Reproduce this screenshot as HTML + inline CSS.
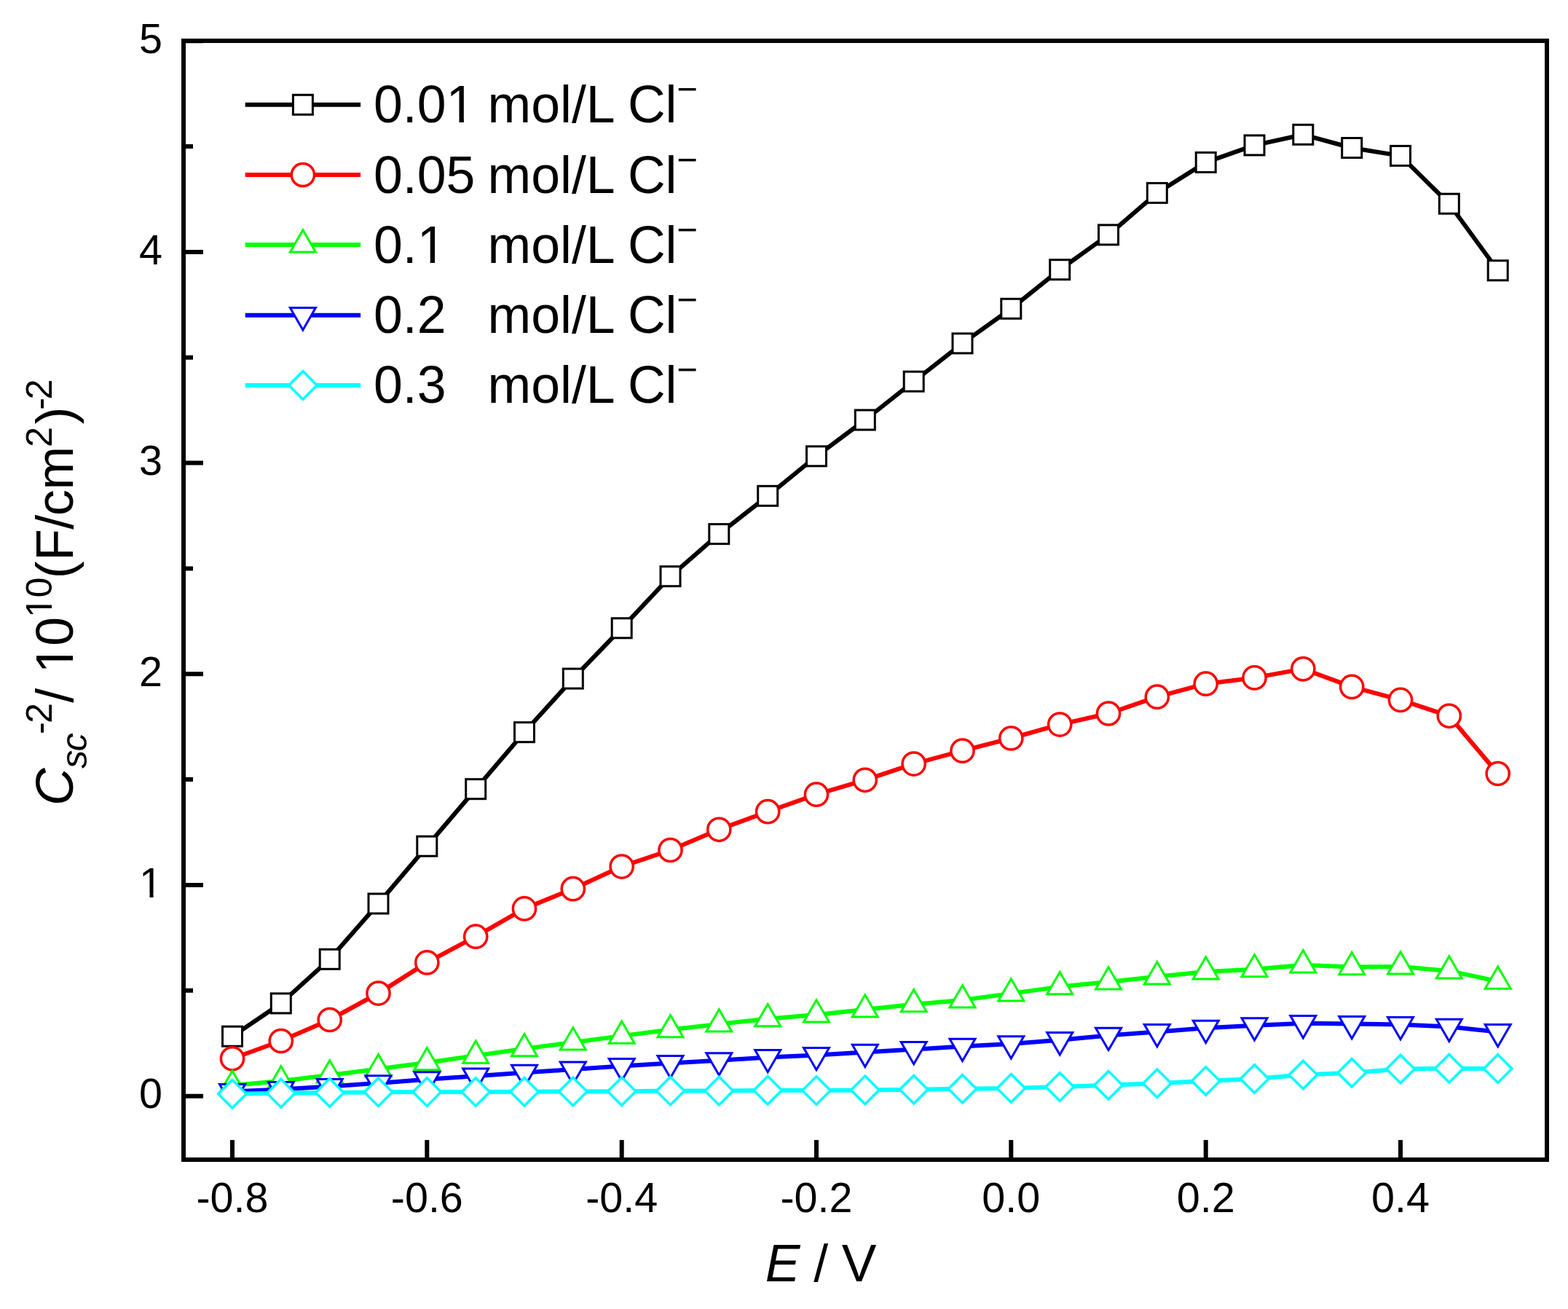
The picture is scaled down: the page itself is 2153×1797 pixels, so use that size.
<!DOCTYPE html>
<html><head><meta charset="utf-8"><title>Mott-Schottky plot</title>
<style>
html,body{margin:0;padding:0;background:#fff;}
body{width:2153px;height:1797px;overflow:hidden;}
svg{display:block;}
text{font-family:"Liberation Sans",Arial,sans-serif;fill:#000;}
</style></head><body>
<svg width="2153" height="1797" viewBox="0 0 2153 1797">
<rect x="0" y="0" width="2153" height="1797" fill="#fff"/>
<polyline points="319,1422.7 385.8,1377.4 452.7,1316.8 519.5,1240.5 586.3,1161.7 653.2,1083.2 720,1005.2 786.8,931.6 853.7,862.3 920.5,791.2 987.3,733.1 1054.2,680.8 1121,626.3 1187.8,576.5 1254.7,523.7 1321.5,471.4 1388.3,423.8 1455.2,370.2 1522,322.4 1588.8,264.9 1655.7,222.9 1722.5,199.4 1789.3,184.8 1856.2,203 1923,213.9 1989.8,279.7 2056.7,371.3" fill="none" stroke="#000000" stroke-width="6.0" stroke-linejoin="round"/>
<g><rect x="305.5" y="1409.2" width="27" height="27" fill="#fff" stroke="#000000" stroke-width="3"/><rect x="372.3" y="1363.9" width="27" height="27" fill="#fff" stroke="#000000" stroke-width="3"/><rect x="439.2" y="1303.3" width="27" height="27" fill="#fff" stroke="#000000" stroke-width="3"/><rect x="506" y="1227" width="27" height="27" fill="#fff" stroke="#000000" stroke-width="3"/><rect x="572.8" y="1148.2" width="27" height="27" fill="#fff" stroke="#000000" stroke-width="3"/><rect x="639.7" y="1069.7" width="27" height="27" fill="#fff" stroke="#000000" stroke-width="3"/><rect x="706.5" y="991.7" width="27" height="27" fill="#fff" stroke="#000000" stroke-width="3"/><rect x="773.3" y="918.1" width="27" height="27" fill="#fff" stroke="#000000" stroke-width="3"/><rect x="840.2" y="848.8" width="27" height="27" fill="#fff" stroke="#000000" stroke-width="3"/><rect x="907" y="777.7" width="27" height="27" fill="#fff" stroke="#000000" stroke-width="3"/><rect x="973.8" y="719.6" width="27" height="27" fill="#fff" stroke="#000000" stroke-width="3"/><rect x="1040.7" y="667.3" width="27" height="27" fill="#fff" stroke="#000000" stroke-width="3"/><rect x="1107.5" y="612.8" width="27" height="27" fill="#fff" stroke="#000000" stroke-width="3"/><rect x="1174.3" y="563" width="27" height="27" fill="#fff" stroke="#000000" stroke-width="3"/><rect x="1241.2" y="510.2" width="27" height="27" fill="#fff" stroke="#000000" stroke-width="3"/><rect x="1308" y="457.9" width="27" height="27" fill="#fff" stroke="#000000" stroke-width="3"/><rect x="1374.8" y="410.3" width="27" height="27" fill="#fff" stroke="#000000" stroke-width="3"/><rect x="1441.7" y="356.7" width="27" height="27" fill="#fff" stroke="#000000" stroke-width="3"/><rect x="1508.5" y="308.9" width="27" height="27" fill="#fff" stroke="#000000" stroke-width="3"/><rect x="1575.3" y="251.4" width="27" height="27" fill="#fff" stroke="#000000" stroke-width="3"/><rect x="1642.2" y="209.4" width="27" height="27" fill="#fff" stroke="#000000" stroke-width="3"/><rect x="1709" y="185.9" width="27" height="27" fill="#fff" stroke="#000000" stroke-width="3"/><rect x="1775.8" y="171.3" width="27" height="27" fill="#fff" stroke="#000000" stroke-width="3"/><rect x="1842.7" y="189.5" width="27" height="27" fill="#fff" stroke="#000000" stroke-width="3"/><rect x="1909.5" y="200.4" width="27" height="27" fill="#fff" stroke="#000000" stroke-width="3"/><rect x="1976.3" y="266.2" width="27" height="27" fill="#fff" stroke="#000000" stroke-width="3"/><rect x="2043.2" y="357.8" width="27" height="27" fill="#fff" stroke="#000000" stroke-width="3"/></g>
<polyline points="319,1453.3 385.8,1429 452.7,1400 519.5,1363.6 586.3,1321.4 653.2,1285.7 720,1247.4 786.8,1220.2 853.7,1189.6 920.5,1167 987.3,1138.8 1054.2,1114.2 1121,1090.7 1187.8,1070.8 1254.7,1048.6 1321.5,1030.7 1388.3,1013.5 1455.2,994.6 1522,979.5 1588.8,956.7 1655.7,938.7 1722.5,930.4 1789.3,918.3 1856.2,942.9 1923,960.9 1989.8,982.8 2056.7,1062" fill="none" stroke="#ff0000" stroke-width="6.0" stroke-linejoin="round"/>
<g><circle cx="319" cy="1453.3" r="15.6" fill="#fff" stroke="#ff0000" stroke-width="3.5"/><circle cx="385.8" cy="1429" r="15.6" fill="#fff" stroke="#ff0000" stroke-width="3.5"/><circle cx="452.7" cy="1400" r="15.6" fill="#fff" stroke="#ff0000" stroke-width="3.5"/><circle cx="519.5" cy="1363.6" r="15.6" fill="#fff" stroke="#ff0000" stroke-width="3.5"/><circle cx="586.3" cy="1321.4" r="15.6" fill="#fff" stroke="#ff0000" stroke-width="3.5"/><circle cx="653.2" cy="1285.7" r="15.6" fill="#fff" stroke="#ff0000" stroke-width="3.5"/><circle cx="720" cy="1247.4" r="15.6" fill="#fff" stroke="#ff0000" stroke-width="3.5"/><circle cx="786.8" cy="1220.2" r="15.6" fill="#fff" stroke="#ff0000" stroke-width="3.5"/><circle cx="853.7" cy="1189.6" r="15.6" fill="#fff" stroke="#ff0000" stroke-width="3.5"/><circle cx="920.5" cy="1167" r="15.6" fill="#fff" stroke="#ff0000" stroke-width="3.5"/><circle cx="987.3" cy="1138.8" r="15.6" fill="#fff" stroke="#ff0000" stroke-width="3.5"/><circle cx="1054.2" cy="1114.2" r="15.6" fill="#fff" stroke="#ff0000" stroke-width="3.5"/><circle cx="1121" cy="1090.7" r="15.6" fill="#fff" stroke="#ff0000" stroke-width="3.5"/><circle cx="1187.8" cy="1070.8" r="15.6" fill="#fff" stroke="#ff0000" stroke-width="3.5"/><circle cx="1254.7" cy="1048.6" r="15.6" fill="#fff" stroke="#ff0000" stroke-width="3.5"/><circle cx="1321.5" cy="1030.7" r="15.6" fill="#fff" stroke="#ff0000" stroke-width="3.5"/><circle cx="1388.3" cy="1013.5" r="15.6" fill="#fff" stroke="#ff0000" stroke-width="3.5"/><circle cx="1455.2" cy="994.6" r="15.6" fill="#fff" stroke="#ff0000" stroke-width="3.5"/><circle cx="1522" cy="979.5" r="15.6" fill="#fff" stroke="#ff0000" stroke-width="3.5"/><circle cx="1588.8" cy="956.7" r="15.6" fill="#fff" stroke="#ff0000" stroke-width="3.5"/><circle cx="1655.7" cy="938.7" r="15.6" fill="#fff" stroke="#ff0000" stroke-width="3.5"/><circle cx="1722.5" cy="930.4" r="15.6" fill="#fff" stroke="#ff0000" stroke-width="3.5"/><circle cx="1789.3" cy="918.3" r="15.6" fill="#fff" stroke="#ff0000" stroke-width="3.5"/><circle cx="1856.2" cy="942.9" r="15.6" fill="#fff" stroke="#ff0000" stroke-width="3.5"/><circle cx="1923" cy="960.9" r="15.6" fill="#fff" stroke="#ff0000" stroke-width="3.5"/><circle cx="1989.8" cy="982.8" r="15.6" fill="#fff" stroke="#ff0000" stroke-width="3.5"/><circle cx="2056.7" cy="1062" r="15.6" fill="#fff" stroke="#ff0000" stroke-width="3.5"/></g>
<polyline points="319,1490.1 385.8,1484 452.7,1476 519.5,1467.6 586.3,1458.7 653.2,1449.3 720,1439.6 786.8,1431 853.7,1422.1 920.5,1413.6 987.3,1405.9 1054.2,1398.7 1121,1393 1187.8,1385.9 1254.7,1378.7 1321.5,1373 1388.3,1363.9 1455.2,1354.6 1522,1348 1588.8,1340.8 1655.7,1333.9 1722.5,1330.7 1789.3,1324.8 1856.2,1327.6 1923,1326.9 1989.8,1332.9 2056.7,1347.1" fill="none" stroke="#00ff00" stroke-width="6.0" stroke-linejoin="round"/>
<g><polygon points="319,1469.9 336.5,1500.2 301.5,1500.2" fill="#fff" stroke="#00ff00" stroke-width="3"/><polygon points="385.8,1463.8 403.3,1494.1 368.3,1494.1" fill="#fff" stroke="#00ff00" stroke-width="3"/><polygon points="452.7,1455.8 470.2,1486.1 435.2,1486.1" fill="#fff" stroke="#00ff00" stroke-width="3"/><polygon points="519.5,1447.4 537,1477.7 502,1477.7" fill="#fff" stroke="#00ff00" stroke-width="3"/><polygon points="586.3,1438.5 603.8,1468.8 568.8,1468.8" fill="#fff" stroke="#00ff00" stroke-width="3"/><polygon points="653.2,1429.1 670.7,1459.4 635.7,1459.4" fill="#fff" stroke="#00ff00" stroke-width="3"/><polygon points="720,1419.4 737.5,1449.7 702.5,1449.7" fill="#fff" stroke="#00ff00" stroke-width="3"/><polygon points="786.8,1410.8 804.3,1441.1 769.3,1441.1" fill="#fff" stroke="#00ff00" stroke-width="3"/><polygon points="853.7,1401.9 871.2,1432.2 836.2,1432.2" fill="#fff" stroke="#00ff00" stroke-width="3"/><polygon points="920.5,1393.4 938,1423.7 903,1423.7" fill="#fff" stroke="#00ff00" stroke-width="3"/><polygon points="987.3,1385.7 1004.8,1416 969.8,1416" fill="#fff" stroke="#00ff00" stroke-width="3"/><polygon points="1054.2,1378.5 1071.7,1408.8 1036.7,1408.8" fill="#fff" stroke="#00ff00" stroke-width="3"/><polygon points="1121,1372.8 1138.5,1403.1 1103.5,1403.1" fill="#fff" stroke="#00ff00" stroke-width="3"/><polygon points="1187.8,1365.7 1205.3,1396 1170.3,1396" fill="#fff" stroke="#00ff00" stroke-width="3"/><polygon points="1254.7,1358.5 1272.2,1388.8 1237.2,1388.8" fill="#fff" stroke="#00ff00" stroke-width="3"/><polygon points="1321.5,1352.8 1339,1383.1 1304,1383.1" fill="#fff" stroke="#00ff00" stroke-width="3"/><polygon points="1388.3,1343.7 1405.8,1374 1370.8,1374" fill="#fff" stroke="#00ff00" stroke-width="3"/><polygon points="1455.2,1334.4 1472.7,1364.7 1437.7,1364.7" fill="#fff" stroke="#00ff00" stroke-width="3"/><polygon points="1522,1327.8 1539.5,1358.1 1504.5,1358.1" fill="#fff" stroke="#00ff00" stroke-width="3"/><polygon points="1588.8,1320.6 1606.3,1350.9 1571.3,1350.9" fill="#fff" stroke="#00ff00" stroke-width="3"/><polygon points="1655.7,1313.7 1673.2,1344 1638.2,1344" fill="#fff" stroke="#00ff00" stroke-width="3"/><polygon points="1722.5,1310.5 1740,1340.8 1705,1340.8" fill="#fff" stroke="#00ff00" stroke-width="3"/><polygon points="1789.3,1304.6 1806.8,1334.9 1771.8,1334.9" fill="#fff" stroke="#00ff00" stroke-width="3"/><polygon points="1856.2,1307.4 1873.7,1337.7 1838.7,1337.7" fill="#fff" stroke="#00ff00" stroke-width="3"/><polygon points="1923,1306.7 1940.5,1337 1905.5,1337" fill="#fff" stroke="#00ff00" stroke-width="3"/><polygon points="1989.8,1312.7 2007.3,1343 1972.3,1343" fill="#fff" stroke="#00ff00" stroke-width="3"/><polygon points="2056.7,1326.9 2074.2,1357.2 2039.2,1357.2" fill="#fff" stroke="#00ff00" stroke-width="3"/></g>
<polyline points="319,1498.6 385.8,1495.5 452.7,1491.5 519.5,1486.9 586.3,1481.8 653.2,1477.2 720,1472.4 786.8,1468.1 853.7,1463.5 920.5,1459.5 987.3,1455.8 1054.2,1451.5 1121,1448.6 1187.8,1444.4 1254.7,1440.6 1321.5,1436.4 1388.3,1432.9 1455.2,1427.7 1522,1421.4 1588.8,1416.6 1655.7,1411.3 1722.5,1407.8 1789.3,1404.7 1856.2,1405.6 1923,1406.6 1989.8,1409.4 2056.7,1416.6" fill="none" stroke="#0000ff" stroke-width="6.0" stroke-linejoin="round"/>
<g><polygon points="319,1518.8 336.5,1488.5 301.5,1488.5" fill="#fff" stroke="#0000ff" stroke-width="3"/><polygon points="385.8,1515.7 403.3,1485.4 368.3,1485.4" fill="#fff" stroke="#0000ff" stroke-width="3"/><polygon points="452.7,1511.7 470.2,1481.4 435.2,1481.4" fill="#fff" stroke="#0000ff" stroke-width="3"/><polygon points="519.5,1507.1 537,1476.8 502,1476.8" fill="#fff" stroke="#0000ff" stroke-width="3"/><polygon points="586.3,1502 603.8,1471.7 568.8,1471.7" fill="#fff" stroke="#0000ff" stroke-width="3"/><polygon points="653.2,1497.4 670.7,1467.1 635.7,1467.1" fill="#fff" stroke="#0000ff" stroke-width="3"/><polygon points="720,1492.6 737.5,1462.3 702.5,1462.3" fill="#fff" stroke="#0000ff" stroke-width="3"/><polygon points="786.8,1488.3 804.3,1458 769.3,1458" fill="#fff" stroke="#0000ff" stroke-width="3"/><polygon points="853.7,1483.7 871.2,1453.4 836.2,1453.4" fill="#fff" stroke="#0000ff" stroke-width="3"/><polygon points="920.5,1479.7 938,1449.4 903,1449.4" fill="#fff" stroke="#0000ff" stroke-width="3"/><polygon points="987.3,1476 1004.8,1445.7 969.8,1445.7" fill="#fff" stroke="#0000ff" stroke-width="3"/><polygon points="1054.2,1471.7 1071.7,1441.4 1036.7,1441.4" fill="#fff" stroke="#0000ff" stroke-width="3"/><polygon points="1121,1468.8 1138.5,1438.5 1103.5,1438.5" fill="#fff" stroke="#0000ff" stroke-width="3"/><polygon points="1187.8,1464.6 1205.3,1434.3 1170.3,1434.3" fill="#fff" stroke="#0000ff" stroke-width="3"/><polygon points="1254.7,1460.8 1272.2,1430.5 1237.2,1430.5" fill="#fff" stroke="#0000ff" stroke-width="3"/><polygon points="1321.5,1456.6 1339,1426.3 1304,1426.3" fill="#fff" stroke="#0000ff" stroke-width="3"/><polygon points="1388.3,1453.1 1405.8,1422.8 1370.8,1422.8" fill="#fff" stroke="#0000ff" stroke-width="3"/><polygon points="1455.2,1447.9 1472.7,1417.6 1437.7,1417.6" fill="#fff" stroke="#0000ff" stroke-width="3"/><polygon points="1522,1441.6 1539.5,1411.3 1504.5,1411.3" fill="#fff" stroke="#0000ff" stroke-width="3"/><polygon points="1588.8,1436.8 1606.3,1406.5 1571.3,1406.5" fill="#fff" stroke="#0000ff" stroke-width="3"/><polygon points="1655.7,1431.5 1673.2,1401.2 1638.2,1401.2" fill="#fff" stroke="#0000ff" stroke-width="3"/><polygon points="1722.5,1428 1740,1397.7 1705,1397.7" fill="#fff" stroke="#0000ff" stroke-width="3"/><polygon points="1789.3,1424.9 1806.8,1394.6 1771.8,1394.6" fill="#fff" stroke="#0000ff" stroke-width="3"/><polygon points="1856.2,1425.8 1873.7,1395.5 1838.7,1395.5" fill="#fff" stroke="#0000ff" stroke-width="3"/><polygon points="1923,1426.8 1940.5,1396.5 1905.5,1396.5" fill="#fff" stroke="#0000ff" stroke-width="3"/><polygon points="1989.8,1429.6 2007.3,1399.3 1972.3,1399.3" fill="#fff" stroke="#0000ff" stroke-width="3"/><polygon points="2056.7,1436.8 2074.2,1406.5 2039.2,1406.5" fill="#fff" stroke="#0000ff" stroke-width="3"/></g>
<polyline points="319,1501.8 385.8,1500.8 452.7,1500 519.5,1499.3 586.3,1499.1 653.2,1499 720,1498.8 786.8,1498.5 853.7,1498.2 920.5,1497.6 987.3,1497.6 1054.2,1496.7 1121,1497.1 1187.8,1496.4 1254.7,1495.7 1321.5,1494.7 1388.3,1493.9 1455.2,1492.1 1522,1489.7 1588.8,1487.2 1655.7,1484 1722.5,1480.9 1789.3,1475.5 1856.2,1472.7 1923,1467.5 1989.8,1466.7 2056.7,1467.1" fill="none" stroke="#00ffff" stroke-width="6.0" stroke-linejoin="round"/>
<g><polygon points="319,1482.5 338.3,1501.8 319,1521.1 299.7,1501.8" fill="#fff" stroke="#00ffff" stroke-width="3.5"/><polygon points="385.8,1481.5 405.1,1500.8 385.8,1520.1 366.5,1500.8" fill="#fff" stroke="#00ffff" stroke-width="3.5"/><polygon points="452.7,1480.7 472,1500 452.7,1519.3 433.4,1500" fill="#fff" stroke="#00ffff" stroke-width="3.5"/><polygon points="519.5,1480 538.8,1499.3 519.5,1518.6 500.2,1499.3" fill="#fff" stroke="#00ffff" stroke-width="3.5"/><polygon points="586.3,1479.8 605.6,1499.1 586.3,1518.4 567,1499.1" fill="#fff" stroke="#00ffff" stroke-width="3.5"/><polygon points="653.2,1479.7 672.5,1499 653.2,1518.3 633.9,1499" fill="#fff" stroke="#00ffff" stroke-width="3.5"/><polygon points="720,1479.5 739.3,1498.8 720,1518.1 700.7,1498.8" fill="#fff" stroke="#00ffff" stroke-width="3.5"/><polygon points="786.8,1479.2 806.1,1498.5 786.8,1517.8 767.5,1498.5" fill="#fff" stroke="#00ffff" stroke-width="3.5"/><polygon points="853.7,1478.9 873,1498.2 853.7,1517.5 834.4,1498.2" fill="#fff" stroke="#00ffff" stroke-width="3.5"/><polygon points="920.5,1478.3 939.8,1497.6 920.5,1516.9 901.2,1497.6" fill="#fff" stroke="#00ffff" stroke-width="3.5"/><polygon points="987.3,1478.3 1006.6,1497.6 987.3,1516.9 968,1497.6" fill="#fff" stroke="#00ffff" stroke-width="3.5"/><polygon points="1054.2,1477.4 1073.5,1496.7 1054.2,1516 1034.9,1496.7" fill="#fff" stroke="#00ffff" stroke-width="3.5"/><polygon points="1121,1477.8 1140.3,1497.1 1121,1516.4 1101.7,1497.1" fill="#fff" stroke="#00ffff" stroke-width="3.5"/><polygon points="1187.8,1477.1 1207.1,1496.4 1187.8,1515.7 1168.5,1496.4" fill="#fff" stroke="#00ffff" stroke-width="3.5"/><polygon points="1254.7,1476.4 1274,1495.7 1254.7,1515 1235.4,1495.7" fill="#fff" stroke="#00ffff" stroke-width="3.5"/><polygon points="1321.5,1475.4 1340.8,1494.7 1321.5,1514 1302.2,1494.7" fill="#fff" stroke="#00ffff" stroke-width="3.5"/><polygon points="1388.3,1474.6 1407.6,1493.9 1388.3,1513.2 1369,1493.9" fill="#fff" stroke="#00ffff" stroke-width="3.5"/><polygon points="1455.2,1472.8 1474.5,1492.1 1455.2,1511.4 1435.9,1492.1" fill="#fff" stroke="#00ffff" stroke-width="3.5"/><polygon points="1522,1470.4 1541.3,1489.7 1522,1509 1502.7,1489.7" fill="#fff" stroke="#00ffff" stroke-width="3.5"/><polygon points="1588.8,1467.9 1608.1,1487.2 1588.8,1506.5 1569.5,1487.2" fill="#fff" stroke="#00ffff" stroke-width="3.5"/><polygon points="1655.7,1464.7 1675,1484 1655.7,1503.3 1636.4,1484" fill="#fff" stroke="#00ffff" stroke-width="3.5"/><polygon points="1722.5,1461.6 1741.8,1480.9 1722.5,1500.2 1703.2,1480.9" fill="#fff" stroke="#00ffff" stroke-width="3.5"/><polygon points="1789.3,1456.2 1808.6,1475.5 1789.3,1494.8 1770,1475.5" fill="#fff" stroke="#00ffff" stroke-width="3.5"/><polygon points="1856.2,1453.4 1875.5,1472.7 1856.2,1492 1836.9,1472.7" fill="#fff" stroke="#00ffff" stroke-width="3.5"/><polygon points="1923,1448.2 1942.3,1467.5 1923,1486.8 1903.7,1467.5" fill="#fff" stroke="#00ffff" stroke-width="3.5"/><polygon points="1989.8,1447.4 2009.1,1466.7 1989.8,1486 1970.5,1466.7" fill="#fff" stroke="#00ffff" stroke-width="3.5"/><polygon points="2056.7,1447.8 2076,1467.1 2056.7,1486.4 2037.4,1467.1" fill="#fff" stroke="#00ffff" stroke-width="3.5"/></g>
<rect x="252" y="56" width="1872" height="1536" fill="none" stroke="#000" stroke-width="6"/>
<path d="M252 1504.7H279 M252 1215H279 M252 925.3H279 M252 635.6H279 M252 345.9H279 M252 56.2H279 M252 1359.8H265 M252 1070.1H265 M252 780.4H265 M252 490.7H265 M252 201H265 M319 1592V1565 M586.3 1592V1565 M853.7 1592V1565 M1121 1592V1565 M1388.3 1592V1565 M1655.7 1592V1565 M1923 1592V1565" stroke="#000" stroke-width="6" fill="none"/>
<text x="223" y="1521.4" font-size="57.5" text-anchor="end">0</text>
<text x="223" y="1231.7" font-size="57.5" text-anchor="end" clip-path="url(#c1t)">1</text>
<text x="223" y="942" font-size="57.5" text-anchor="end">2</text>
<text x="223" y="652.3" font-size="57.5" text-anchor="end">3</text>
<text x="223" y="362.6" font-size="57.5" text-anchor="end">4</text>
<text x="223" y="72.9" font-size="57.5" text-anchor="end">5</text>
<text x="319" y="1664.2" font-size="57.5" text-anchor="middle">-0.8</text>
<text x="586.3" y="1664.2" font-size="57.5" text-anchor="middle">-0.6</text>
<text x="853.7" y="1664.2" font-size="57.5" text-anchor="middle">-0.4</text>
<text x="1121" y="1664.2" font-size="57.5" text-anchor="middle">-0.2</text>
<text x="1388.3" y="1664.2" font-size="57.5" text-anchor="middle">0.0</text>
<text x="1655.7" y="1664.2" font-size="57.5" text-anchor="middle">0.2</text>
<text x="1923" y="1664.2" font-size="57.5" text-anchor="middle">0.4</text>
<line x1="336.7" y1="143.8" x2="495.1" y2="143.8" stroke="#000000" stroke-width="6.0"/><rect x="402.4" y="130.3" width="27" height="27" fill="#fff" stroke="#000000" stroke-width="3"/><text x="513" y="167.7" font-size="71.6" clip-path="url(#c1l0)">0.01</text><text x="669.6" y="167.7" font-size="71.6">mol/L Cl<tspan font-size="49" dy="-29">−</tspan></text>
<line x1="336.7" y1="240" x2="495.1" y2="240" stroke="#ff0000" stroke-width="6.0"/><circle cx="415.9" cy="240" r="15.6" fill="#fff" stroke="#ff0000" stroke-width="3.5"/><text x="513" y="264.7" font-size="71.6">0.05</text><text x="669.6" y="264.7" font-size="71.6">mol/L Cl<tspan font-size="49" dy="-29">−</tspan></text>
<line x1="336.7" y1="335.9" x2="495.1" y2="335.9" stroke="#00ff00" stroke-width="6.0"/><polygon points="415.9,315.7 433.4,346 398.4,346" fill="#fff" stroke="#00ff00" stroke-width="3"/><text x="513" y="360.9" font-size="71.6" clip-path="url(#c1l2)">0.1</text><text x="669.6" y="360.9" font-size="71.6">mol/L Cl<tspan font-size="49" dy="-29">−</tspan></text>
<line x1="336.7" y1="432.7" x2="495.1" y2="432.7" stroke="#0000ff" stroke-width="6.0"/><polygon points="415.9,452.9 433.4,422.6 398.4,422.6" fill="#fff" stroke="#0000ff" stroke-width="3"/><text x="513" y="456.9" font-size="71.6">0.2</text><text x="669.6" y="456.9" font-size="71.6">mol/L Cl<tspan font-size="49" dy="-29">−</tspan></text>
<line x1="336.7" y1="528.9" x2="495.1" y2="528.9" stroke="#00ffff" stroke-width="6.0"/><polygon points="415.9,509.6 435.2,528.9 415.9,548.2 396.6,528.9" fill="#fff" stroke="#00ffff" stroke-width="3.5"/><text x="513" y="552.6" font-size="71.6">0.3</text><text x="669.6" y="552.6" font-size="71.6">mol/L Cl<tspan font-size="49" dy="-29">−</tspan></text>
<text y="1758.7" font-size="71.6"><tspan x="1050.8" font-style="italic">E</tspan><tspan x="1097 1117.3 1145 1155.7"> / V</tspan></text>
<text transform="translate(100,1103) rotate(-90)" font-size="71.6" clip-path="url(#c1y)"><tspan x="-3" y="0" font-style="italic">C</tspan><tspan x="47.9 71.6" y="19.3" font-style="italic" font-size="50.5">sc</tspan><tspan x="95 110.1" y="-28.8" font-size="50.5">-2</tspan><tspan x="138.3 159 178.4 216.3" y="0">/ 10</tspan><tspan x="255.3 282.4" y="-28.8" font-size="50.5">10</tspan><tspan x="308.7 333.2 376.3 395 430.6" y="0">(F/cm</tspan><tspan x="489.1" y="-28.8" font-size="50.5">2</tspan><tspan x="520.6" y="0">)</tspan><tspan x="540.2 554.6" y="-28.8" font-size="50.5">-2</tspan></text>
<defs><clipPath id="c1t"><path clip-rule="evenodd" d="M-5000 -5000H5000V5000H-5000Z M193.9 1226.4H205.5V1233.2H193.9Z M210.6 1226.4H221.7V1233.2H210.6Z"/></clipPath><clipPath id="c1l0"><path clip-rule="evenodd" d="M-5000 -5000H5000V5000H-5000Z M616.5 161.4H630.5V169.2H616.5Z M636.9 161.4H650.4V169.2H636.9Z"/></clipPath><clipPath id="c1l2"><path clip-rule="evenodd" d="M-5000 -5000H5000V5000H-5000Z M576.7 354.6H590.7V362.4H576.7Z M597 354.6H610.5V362.4H597Z"/></clipPath><clipPath id="c1y"><path clip-rule="evenodd" d="M-5000 -5000H5000V5000H-5000Z M182.4 -6.3H196.4V1.5H182.4Z M202.7 -6.3H216.2V1.5H202.7Z M257.7 -33.6H268V-27.3H257.7Z M272.5 -33.6H282.5V-27.3H272.5Z"/></clipPath></defs>
</svg>
</body></html>
